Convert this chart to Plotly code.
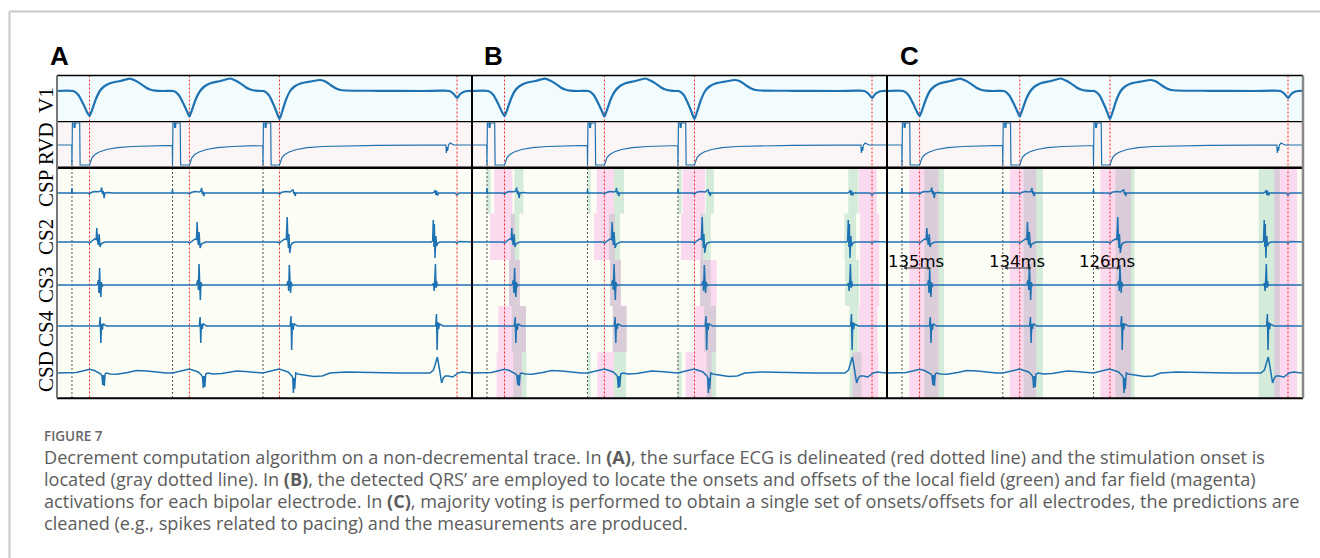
import plotly.graph_objects as go

# ---------------- data (time in ms, amplitudes in px-like units, up = positive) -------------
T_WINDOW = 1940
STIM = [70, 540, 963]            # stimulation onsets (gray dotted)
QRS = [152, 619, 1040, 1870]     # delineated QRS (red dotted)
MEAS = [135, 134, 126]           # measured intervals in panel C (ms)
CHANNELS = ["V1", "RVD", "CSP", "CS2", "CS3", "CS4", "CSD"]

V1 = [(0, 0), (76, 0), (100, -4), (125, -14), (140, -21), (152, -25), (164, -19), (182, -8), (200, 0),
      (220, 4.5), (248, 7.7), (295, 10), (341, 12.3), (365, 10.5), (388, 7.7), (415, 3.5), (435, 1.5),
      (460, 0.3), (500, 0),
      (545, 0), (569, -4), (594, -14), (609, -21), (619, -25.5), (631, -19), (649, -8), (669, 0),
      (689, 4.5), (717, 7.7), (764, 10), (810, 12.5), (834, 10.5), (857, 7.7), (884, 3.5), (904, 1.5),
      (929, 0.3), (960, 0),
      (966, 0), (990, -4), (1015, -15), (1030, -23), (1040, -28), (1052, -21), (1070, -9), (1090, 0),
      (1110, 4.5), (1138, 7.5), (1185, 9.5), (1231, 11), (1255, 9.5), (1278, 6), (1305, 2.5), (1325, 1),
      (1350, 0.5), (1500, 0.2), (1700, 0), (1800, 0.3), (1835, 0), (1855, -3), (1870, -7), (1885, -3),
      (1905, -0.5), (1920, 0), (1940, 0)]

RVD = [(0, 0), (69, 0), (70, -20), (72, 22), (79, 22), (80, 17), (82, 22), (84, 17), (86, 22), (106, 22),
       (108, -20), (152, -20), (157, -16), (164, -12.5), (177, -9.5), (197, -7), (232, -4.5), (282, -2.7),
       (352, -1.5), (452, -0.8), (539, -0.3),
       (540, -20), (542, 22), (549, 22), (550, 17), (552, 22), (554, 17), (556, 22), (576, 22), (578, -20),
       (619, -20), (624, -16), (631, -12.5), (644, -9.5), (664, -7), (699, -4.5), (749, -2.7), (819, -1.5),
       (919, -0.8), (962, -0.5),
       (963, -20), (965, 22), (972, 22), (973, 17), (975, 22), (977, 17), (979, 22), (999, 22), (1001, -20),
       (1040, -20), (1045, -16), (1052, -12.5), (1065, -9.5), (1085, -7), (1120, -4.5), (1170, -2.7),
       (1240, -1.5), (1340, -0.8), (1500, -0.4), (1700, -0.2), (1818, 0), (1820, -8), (1823, -2),
       (1826, -6), (1830, 0), (1838, 2), (1846, 1), (1855, 0), (1940, 0)]

CSP = [(0, 0), (68, 0), (70, 4.7), (72, -1), (74, 0), (145, 0), (152, -1.2), (160, 0.5), (175, 1.5),
       (195, 1.2), (205, 2), (209, 5.5), (212, -1), (216, 2), (220, -5), (224, 0), (240, 0.5), (260, 0),
       (538, 0), (540, 3.5), (542, -1), (544, 0), (612, 0), (619, -1), (628, 0.5), (645, 1.5), (665, 1),
       (672, 2), (676, 5), (679, -1), (682, 1.5), (686, -3), (690, 0), (700, 0),
       (961, 0), (963, 4), (965, -1), (967, 0), (1032, 0), (1040, -1), (1050, 0.8), (1070, 1.5),
       (1090, 1), (1100, 2.5), (1104, 3.5), (1107, -1), (1110, 1), (1113, -3), (1117, 0), (1130, 0),
       (1755, 0), (1765, 1), (1768, 3), (1771, -2), (1775, 2), (1779, -2.5), (1784, 0), (1860, 0),
       (1870, -2), (1880, 0), (1940, 0)]

CS2 = [(0, 0), (145, 0), (152, -1), (165, 1.5), (175, 3), (183, 2.5), (186, 14), (189, 2), (193, -3),
       (197, 8), (201, -5), (206, -2), (212, -1), (225, 0),
       (612, 0), (619, -1), (632, 1.5), (645, 3), (652, 2.5), (655, 20), (658, 3), (661, -3), (664, 10),
       (669, -6), (675, -2), (682, -1), (695, 0),
       (1032, 0), (1040, -1), (1053, 1.5), (1065, 3), (1072, 2.5), (1076, 25), (1079, 4), (1082, -6),
       (1084, 8), (1088, -11), (1094, -3), (1100, -1), (1115, 0),
       (1750, 0), (1756, 1), (1759, 22), (1762, -5), (1764, 18), (1767, -16), (1771, 6), (1775, -4),
       (1780, -1), (1790, 0), (1862, 0), (1870, -1), (1880, 0.5), (1940, 0)]

CS3 = [(0, 0), (185, 0), (190, 1), (193, 5), (196, -8), (199, 17), (202, -4), (205, -12), (208, 3),
       (211, -2), (215, 0),
       (652, 0), (658, 5), (661, -5), (664, 21), (667, -4), (670, -15), (673, 3), (676, -1), (680, 0),
       (1074, 0), (1080, 4), (1083, -6), (1086, 20), (1089, -4), (1092, -8), (1095, 3), (1099, -1),
       (1104, 0),
       (1755, 0), (1760, 2), (1763, -6), (1766, 5), (1769, 21), (1772, -3), (1775, 4), (1778, -1),
       (1783, 0), (1940, 0)]

CS4 = [(0, 0), (198, 0), (202, 9), (205, -17), (208, 2), (212, -4), (216, 2.5), (222, 1), (232, 0),
       (665, 0), (669, 9), (672, -17), (675, 2), (679, -3), (683, 2.5), (690, 1), (700, 0),
       (1090, 0), (1094, 10), (1097, -24), (1100, 3), (1104, -4), (1108, 2.5), (1115, 1), (1125, 0),
       (1770, 0), (1774, 12), (1777, -24), (1780, 4), (1784, -3), (1788, 2), (1795, 1), (1805, 0),
       (1940, 0)]

CSD = [(0, 0), (60, 0), (90, 0.5), (120, 2), (152, 3.7), (175, 2.5), (190, 1), (205, -1), (210, -3),
       (214, -12), (217, -2), (221, -13), (225, -1), (232, 0), (250, -1), (280, -1.2), (330, 0.5),
       (372, 2.5), (420, 2), (470, 0.5), (510, 0), (540, 0),
       (570, 1.5), (600, 3), (619, 4), (640, 2.5), (660, 1), (675, -2), (680, -4), (684, -15), (687, -3),
       (691, -14), (695, -1), (705, 0), (730, -1), (770, -0.5), (840, 2), (880, 1.5), (930, 0.5),
       (963, 0),
       (990, 1.5), (1020, 3), (1038, 4), (1060, 2.5), (1080, 1), (1098, -3), (1102, -5), (1105, -20),
       (1108, -5), (1111, -16), (1116, 0), (1125, -1), (1151, -2), (1200, -3.5), (1240, -3), (1276, 0),
       (1350, 1), (1450, 0.5), (1600, 0), (1744, 0), (1760, 3), (1767, 8), (1778, 16), (1787, 5),
       (1793, -5), (1798, -10), (1806, -5), (1815, -3), (1829, -3), (1850, -4), (1876, 0), (1895, 1),
       (1915, 0.5), (1940, 0)]

SIGNALS = [V1, RVD, CSP, CS2, CS3, CS4, CSD]

# Panel B: per-electrode detections (ms intervals)
B_GREEN = [
    [(69, 87), (198, 240), (542, 555), (664, 711), (964, 980), (1093, 1131), (1759, 1806)],  # CSP
    [(181, 221), (640, 692), (1069, 1116), (1741, 1795)],                                   # CS2
    [(173, 224), (645, 696), (1066, 1116), (1744, 1809)],                                   # CS3
    [(186, 252), (658, 723), (1085, 1141), (1764, 1806)],                                   # CS4
    [(193, 255), (542, 555), (664, 720), (961, 980), (1097, 1141), (1764, 1821)],           # CSD
]
B_MAGENTA = [
    [(104, 189), (583, 664), (985, 1089), (1809, 1892)],
    [(84, 201), (570, 668), (977, 1081), (1814, 1904)],
    [(173, 224), (645, 696), (1066, 1144), (1814, 1904)],
    [(123, 252), (658, 723), (1043, 1141), (1809, 1895)],
    [(115, 232), (586, 664), (998, 1120), (1779, 1899)],
]
# Panel C: majority-voted detections
C_GREEN = [(174, 266), (637, 727), (1065, 1154), (1733, 1832)]
C_MAGENTA = [(104, 240), (572, 696), (995, 1138), (1806, 1912)]

CAPTION_TITLE = "FIGURE 7"
CAPTION = [
    "Decrement computation algorithm on a non-decremental trace. In <b>(A)</b>, the surface ECG is delineated (red dotted line) and the stimulation onset is",
    "located (gray dotted line). In <b>(B)</b>, the detected QRS\u2019 are employed to locate the onsets and offsets of the local field (green) and far field (magenta)",
    "activations for each bipolar electrode. In <b>(C)</b>, majority voting is performed to obtain a single set of onsets/offsets for all electrodes, the predictions are",
    "cleaned (e.g., spikes related to pacing) and the measurements are produced.",
]

# ---------------- layout constants (page pixels) -------------
W, H = 1320, 558
TOP, BOTTOM = 75.5, 398.3
ROW_H = (BOTTOM - TOP) / 7
ROW_EDGES = [TOP + k * ROW_H for k in range(8)]
BASELINES = [91, 145, 193, 242, 285, 326, 373]
LABEL_Y = [100, 144, 189, 237, 285, 329, 372]
PANELS = [("A", 57, 472), ("B", 472, 887), ("C", 887, 1303)]
LETTER_X = [48, 482, 898]
LINE_W = [2.2, 1.2, 1.5, 1.5, 1.5, 1.5, 1.5]
BLUE = "#1f72b2"
BG = ["#f2fcfe", "#fcf5f5"] + ["#fcfdf5"] * 5
GREEN = "rgba(92,185,137,0.25)"
MAGENTA = "rgba(252,78,220,0.2)"


def pxx(x):
    return x / W


def pyy(y):
    return 1 - y / H


fig = go.Figure()
shapes = []
annotations = []
layout_axes = {}

for i, (letter, x0, x1) in enumerate(PANELS):
    n = "" if i == 0 else str(i + 1)
    xa, ya = "x" + n, "y" + n
    layout_axes["xaxis" + n] = dict(domain=[pxx(x0), pxx(x1)], range=[0, T_WINDOW], visible=False,
                                    anchor=ya, fixedrange=True)
    layout_axes["yaxis" + n] = dict(domain=[pyy(BOTTOM), pyy(TOP)], range=[BOTTOM, TOP], visible=False,
                                    anchor=xa, fixedrange=True)
    # row backgrounds
    for r in range(7):
        shapes.append(dict(type="rect", xref=xa, yref=ya, x0=0, x1=T_WINDOW, y0=ROW_EDGES[r],
                           y1=ROW_EDGES[r + 1], fillcolor=BG[r], line=dict(width=0), layer="below"))
    # shading
    if letter == "B":
        for r in range(5):
            for (a, b) in B_GREEN[r]:
                shapes.append(dict(type="rect", xref=xa, yref=ya, x0=a, x1=b, y0=ROW_EDGES[r + 2],
                                   y1=ROW_EDGES[r + 3], fillcolor=GREEN, line=dict(width=0), layer="below"))
            for (a, b) in B_MAGENTA[r]:
                shapes.append(dict(type="rect", xref=xa, yref=ya, x0=a, x1=b, y0=ROW_EDGES[r + 2],
                                   y1=ROW_EDGES[r + 3], fillcolor=MAGENTA, line=dict(width=0), layer="below"))
    if letter == "C":
        for (a, b) in C_GREEN:
            shapes.append(dict(type="rect", xref=xa, yref=ya, x0=a, x1=b, y0=ROW_EDGES[2],
                               y1=ROW_EDGES[7], fillcolor=GREEN, line=dict(width=0), layer="below"))
        for (a, b) in C_MAGENTA:
            shapes.append(dict(type="rect", xref=xa, yref=ya, x0=a, x1=b, y0=ROW_EDGES[2],
                               y1=ROW_EDGES[7], fillcolor=MAGENTA, line=dict(width=0), layer="below"))
    # dotted markers
    for s in STIM:
        shapes.append(dict(type="line", xref=xa, yref=ya, x0=s, x1=s, y0=160, y1=BOTTOM,
                           line=dict(color="#555555", width=1, dash="2px,2px"), layer="below"))
    for q in QRS:
        shapes.append(dict(type="line", xref=xa, yref=ya, x0=q, x1=q, y0=TOP, y1=BOTTOM,
                           line=dict(color="#ff2020", width=1, dash="2px,2px"), layer="below"))
    # traces
    for c, sig in enumerate(SIGNALS):
        ts = [p[0] for p in sig]
        vs = [BASELINES[c] - p[1] for p in sig]
        fig.add_trace(go.Scatter(x=ts, y=vs, xaxis=xa, yaxis=ya, mode="lines",
                                 line=dict(color=BLUE, width=LINE_W[c],
                                           shape="spline" if c == 0 else "linear", smoothing=0.6),
                                 hoverinfo="skip", showlegend=False))
    # panel letter
    annotations.append(dict(text="<b>%s</b>" % letter, x=pxx(LETTER_X[i]), y=pyy(56), xref="paper",
                            yref="paper", xanchor="left", yanchor="middle", showarrow=False,
                            font=dict(family="Liberation Sans", size=26, color="black")))
    # measurements in C
    if letter == "C":
        for s, m in zip(STIM, MEAS):
            annotations.append(dict(x=s + m, y=268, ax=s, ay=268, xref=xa, yref=ya, axref=xa, ayref=ya,
                                    text="", showarrow=True, arrowhead=2, arrowside="end+start",
                                    arrowsize=0.7, arrowwidth=1, arrowcolor="#333333"))
            annotations.append(dict(x=s + m / 2, y=261, xref=xa, yref=ya, text="%dms" % m,
                                    showarrow=False, xanchor="center", yanchor="middle",
                                    font=dict(family="DejaVu Sans", size=16.5, color="black")))

# row labels
for c, name in enumerate(CHANNELS):
    annotations.append(dict(text=name, x=pxx(46), y=pyy(LABEL_Y[c]), xref="paper", yref="paper",
                            textangle=-90, showarrow=False, xanchor="center", yanchor="middle",
                            font=dict(family="Liberation Serif", size=21, color="black")))

# panel borders
def pline(xa0, ya0, xa1, ya1, color, width):
    shapes.append(dict(type="line", xref="paper", yref="paper", x0=pxx(xa0), y0=pyy(ya0),
                       x1=pxx(xa1), y1=pyy(ya1), line=dict(color=color, width=width), layer="above"))

pline(57, TOP, 1303, TOP, "black", 1.5)
pline(57, ROW_EDGES[1], 1303, ROW_EDGES[1], "black", 1.2)
pline(57, ROW_EDGES[2], 1303, ROW_EDGES[2], "black", 2.5)
pline(57, BOTTOM, 1303, BOTTOM, "black", 2)
pline(57, TOP, 57, BOTTOM, "#777777", 2)
pline(472, TOP, 472, BOTTOM, "black", 2)
pline(887, TOP, 887, BOTTOM, "black", 2)
pline(1303, TOP, 1303, BOTTOM, "#888888", 2.5)

# page frame
pline(9.5, 11.5, 1320, 11.5, "#c8c8c8", 2)
pline(9.5, 11.5, 9.5, 558, "#c8c8c8", 2)

# caption
annotations.append(dict(text=CAPTION_TITLE, x=pxx(42), y=pyy(436), xref="paper", yref="paper",
                        xanchor="left", yanchor="middle", showarrow=False,
                        font=dict(family="Open Sans", size=13.5, color="#666666", weight=600)))
for k, line in enumerate(CAPTION):
    annotations.append(dict(text=line, x=pxx(42), y=pyy(457 + 22.1 * k), xref="paper", yref="paper",
                            xanchor="left", yanchor="middle", showarrow=False,
                            font=dict(family="Open Sans", size=18.1, color="#5c5c5c")))

fig.update_layout(width=W, height=H, margin=dict(l=0, r=0, t=0, b=0), paper_bgcolor="white",
                  plot_bgcolor="rgba(0,0,0,0)", shapes=shapes, annotations=annotations, **layout_axes)
fig.write_html("out.html", config={"displayModeBar": False})
